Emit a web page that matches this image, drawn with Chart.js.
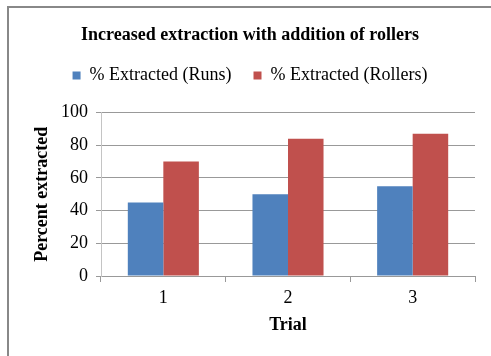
<!DOCTYPE html>
<html>
<head>
<meta charset="utf-8">
<script src="https://cdn.jsdelivr.net/npm/chart.js@4/dist/chart.umd.min.js"></script>
<style>
  html, body { margin: 0; padding: 0; background: #fff; }
  #wrap { width: 491px; height: 356px; position: relative; }
</style>
</head>
<body>
<div id="wrap"><canvas id="c" width="491" height="356"></canvas></div>
<script>
const trials = ['1', '2', '3'];
const runsExtracted = [45, 50, 55];
const rollersExtracted = [70, 84, 87];
const seriesNames = ['% Extracted (Runs)', '% Extracted (Rollers)'];
const chartTitle = 'Increased extraction with addition of rollers';
const xTitle = 'Trial';
const yTitle = 'Percent extracted';

const serif = "'Liberation Serif', 'Times New Roman', serif";

// Frame lines along the top and left edges of the chart box
const framePlugin = {
  id: 'frame',
  beforeDraw(chart) {
    const ctx = chart.ctx;
    ctx.save();
    ctx.fillStyle = '#fff';
    ctx.fillRect(0, 0, chart.width, chart.height);
    ctx.strokeStyle = '#888';
    ctx.lineWidth = 2;
    ctx.beginPath();
    ctx.moveTo(8, chart.height);
    ctx.lineTo(8, 7);
    ctx.lineTo(chart.width, 7);
    ctx.stroke();
    ctx.restore();
  }
};

// Extra gap between the legend row and the plot area
const legendGapPlugin = {
  id: 'legendGap',
  beforeInit(chart) {
    const legend = chart.legend;
    if (!legend) return;
    const origFit = legend.fit;
    legend.fit = function () {
      origFit.call(this);
      this.height += 18;
    };
  }
};

new Chart(document.getElementById('c'), {
  type: 'bar',
  data: {
    labels: trials,
    datasets: [
      { label: seriesNames[0], data: runsExtracted, backgroundColor: '#4F81BD' },
      { label: seriesNames[1], data: rollersExtracted, backgroundColor: '#C0504D' }
    ]
  },
  options: {
    responsive: false,
    animation: false,
    layout: { padding: { left: 25, right: 16, top: 0, bottom: 20 } },
    datasets: { bar: { categoryPercentage: 0.57, barPercentage: 1.0 } },
    plugins: {
      title: {
        display: true,
        text: chartTitle,
        color: '#000',
        font: { family: serif, size: 18, weight: 'bold' },
        padding: { top: 25, bottom: -2 }
      },
      legend: {
        display: true,
        labels: {
          color: '#000',
          font: { family: serif, size: 18 },
          boxWidth: 8,
          boxHeight: 8,
          padding: 22
        }
      },
      tooltip: { enabled: false }
    },
    scales: {
      x: {
        grid: { display: true, drawOnChartArea: false, drawTicks: true, tickLength: 6, color: '#999' },
        border: { color: '#999' },
        ticks: { color: '#000', font: { family: serif, size: 18 }, padding: 5 },
        title: { display: true, text: xTitle, color: '#000', font: { family: serif, size: 18, weight: 'bold' }, padding: { top: 0, bottom: 0 } },
        afterFit(scale) { scale.height = 60; }
      },
      y: {
        min: 0,
        max: 100,
        ticks: { stepSize: 20, color: '#000', font: { family: serif, size: 18 }, padding: 8 },
        grid: { color: '#999', tickLength: 5 },
        border: { color: '#c4c4c4' },
        title: { display: true, text: yTitle, color: '#000', font: { family: serif, size: 18, weight: 'bold' }, padding: { top: 7, bottom: 0 } },
        afterFit(scale) { scale.width = 76; }
      }
    }
  },
  plugins: [framePlugin, legendGapPlugin]
});
</script>
</body>
</html>
